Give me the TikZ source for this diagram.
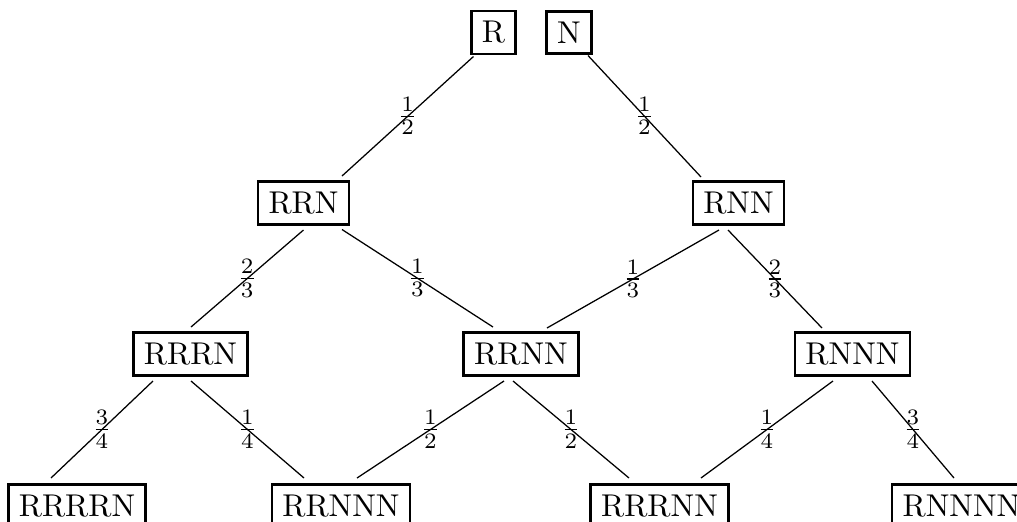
\documentclass[tikz,border=0pt]{standalone}
\usetikzlibrary{calc}
\begin{document}
\begin{tikzpicture}[x=0.3175pt,y=-0.3175pt,
  box/.style={draw,thick,rectangle},
  edge/.style={line width=0.4pt},
  lab/.style={midway,inner sep=0pt}]
\useasboundingbox (0,0) rectangle (1017,522);
\clip (0,0) rectangle (1017,522);
% level 0
\node[box] (R) at (493.5,32.5) {R};
\node[box] (N) at (569,32.5) {N};
% level 1
\node[box] (RRN) at (303.5,203) {RRN};
\node[box] (RNN) at (738.5,203) {RNN};
% level 2
\node[box] (RRRN) at (190.5,354) {RRRN};
\node[box] (RRNN) at (521,354) {RRNN};
\node[box] (RNNN) at (852.5,354) {RNNN};
% level 3
\node[box] (RRRRN) at (77,506) {RRRRN};
\node[box] (RRNNN) at (341,506) {RRNNN};
\node[box] (RRRNN) at (659.5,506) {RRRNN};
\node[box] (RNNNN) at (961.5,506) {RNNNN};
% edges
\draw[edge] ($(R)+(-20,24)$) -- ($(RRN)+(38.5,-27)$) node[lab]{$\frac{1}{2}$};
\draw[edge] ($(N)+(19,23)$) -- ($(RNN)+(-37.5,-26)$) node[lab]{$\frac{1}{2}$};
\draw[edge] ($(RRN)+(0,27)$) -- ($(RRRN)+(0.5,-27)$) node[lab]{$\frac{2}{3}$};
\draw[edge] ($(RRN)+(38.5,26.5)$) -- ($(RRNN)+(-28,-27)$) node[lab]{$\frac{1}{3}$};
\draw[edge] ($(RNN)+(-19.5,27)$) -- ($(RRNN)+(26,-26)$) node[lab]{$\frac{1}{3}$};
\draw[edge] ($(RNN)+(-10.5,27)$) -- ($(RNNN)+(-30.5,-26)$) node[lab]{$\frac{2}{3}$};
\draw[edge] ($(RRRN)+(-37.5,27)$) -- ($(RRRRN)+(-26,-28)$) node[lab]{$\frac{3}{4}$};
\draw[edge] ($(RRRN)+(0.5,27)$) -- ($(RRNNN)+(-37,-28)$) node[lab]{$\frac{1}{4}$};
\draw[edge] ($(RRNN)+(-17,27)$) -- ($(RRNNN)+(16,-28)$) node[lab]{$\frac{1}{2}$};
\draw[edge] ($(RRNN)+(-8,27)$) -- ($(RRRNN)+(-30.5,-28)$) node[lab]{$\frac{1}{2}$};
\draw[edge] ($(RNNN)+(-19.5,27)$) -- ($(RRRNN)+(41.5,-28)$) node[lab]{$\frac{1}{4}$};
\draw[edge] ($(RNNN)+(19.5,27)$) -- ($(RNNNN)+(-7.5,-28)$) node[lab]{$\frac{3}{4}$};
\end{tikzpicture}
\end{document}
